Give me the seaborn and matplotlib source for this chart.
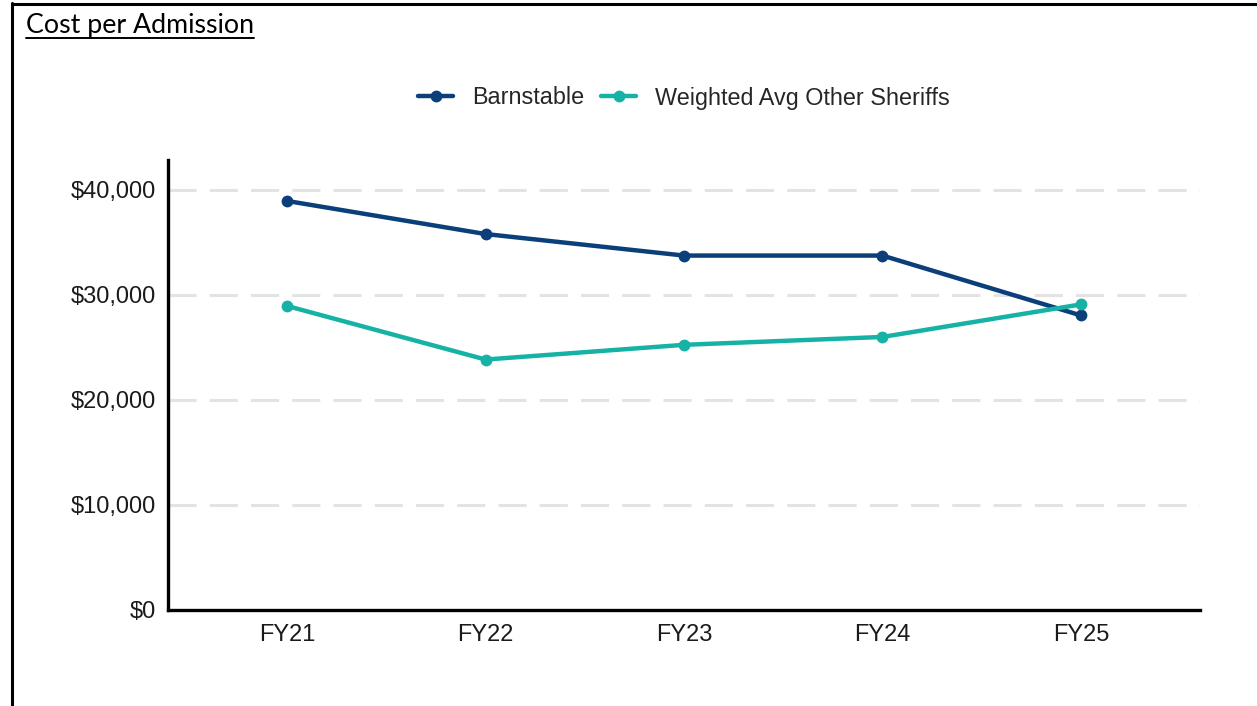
import matplotlib
matplotlib.use("Agg")
import matplotlib.pyplot as plt
from matplotlib.lines import Line2D
from matplotlib.ticker import FuncFormatter
import seaborn as sns
import pandas as pd

years = ["FY21", "FY22", "FY23", "FY24", "FY25"]
barnstable = [38950, 35800, 33750, 33750, 28050]
other_sheriffs = [28950, 23850, 25250, 26000, 29100]
series_names = ["Barnstable", "Weighted Avg Other Sheriffs"]
y_ticks = [0, 10000, 20000, 30000, 40000]
title = "Cost per Admission"

df = pd.concat([
    pd.DataFrame({"Year": years, "Cost": barnstable, "Series": series_names[0]}),
    pd.DataFrame({"Year": years, "Cost": other_sheriffs, "Series": series_names[1]}),
])

sns.set_theme(style="white")
plt.rcParams["font.family"] = ["Liberation Sans", "DejaVu Sans"]

fig = plt.figure(figsize=(12.57, 7.06), dpi=100)
ax = fig.add_axes([168/1257, 96/706, (1200-168)/1257, (610-160)/706])

palette = {series_names[0]: "#0b3f7a", series_names[1]: "#17b2a6"}
sns.lineplot(data=df, x="Year", y="Cost", hue="Series", palette=palette,
             marker="o", markersize=8.5, markeredgewidth=0, linewidth=3.2,
             sort=False, ax=ax)

ax.set_xlim(-0.6, 4.6)
ax.set_ylim(0, 42850)
ax.set_yticks(y_ticks)
ax.yaxis.set_major_formatter(FuncFormatter(lambda v, p: f"${v:,.0f}"))
ax.set_xlabel("")
ax.set_ylabel("")
ax.yaxis.grid(True, color="#e3e3e3", linestyle=(0, (9.2, 4.3)), linewidth=2.2)
ax.set_axisbelow(True)
for s in ["top", "right"]:
    ax.spines[s].set_visible(False)
for s in ["left", "bottom"]:
    ax.spines[s].set_color("black")
    ax.spines[s].set_linewidth(2.4)
ax.tick_params(axis="both", length=0, labelsize=17, colors="#1a1a1a")
ax.tick_params(axis="y", pad=9)
ax.tick_params(axis="x", pad=10)

ax.legend(loc="center", bbox_to_anchor=(0.5, 512/450), ncol=2, frameon=False,
          fontsize=16.8, handlelength=1.5, handletextpad=0.8, columnspacing=0.75)

# Frame lines of the surrounding box
fig.add_artist(Line2D([12/1257, 1], [1 - 4/706, 1 - 4/706], color="black", linewidth=2.2,
                      transform=fig.transFigure))
fig.add_artist(Line2D([12/1257, 12/1257], [0, 1 - 3/706], color="black", linewidth=2.2,
                      transform=fig.transFigure))

# Underlined title
t = fig.text(26/1257, 1 - 33/706, title, fontsize=19.3, family=["Lato", "DejaVu Sans"],
             color="black", ha="left", va="baseline")
fig.canvas.draw()
bb = t.get_window_extent(renderer=fig.canvas.get_renderer())
inv = fig.transFigure.inverted()
(x0, _), (x1, _) = inv.transform([(bb.x0, bb.y0), (bb.x1, bb.y0)])
uy = 1 - 38/706
fig.add_artist(Line2D([x0, x1], [uy, uy], color="black", linewidth=1.4,
                      transform=fig.transFigure))

fig.savefig("out.png", dpi=100)
